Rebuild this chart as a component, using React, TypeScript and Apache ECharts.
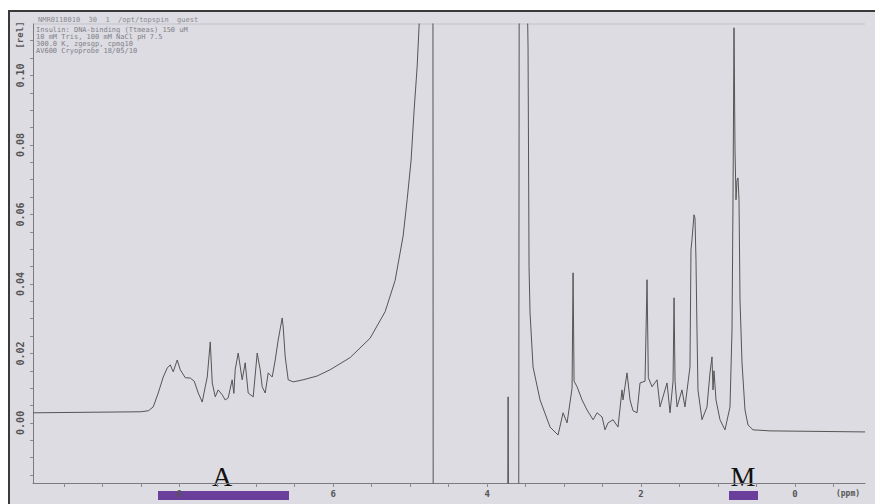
import React, { useEffect, useRef } from "react";
import * as echarts from "echarts";

// Aromatic / amide region (ppm, relative intensity)
const aromaticPpm = [9.90, 8.50, 8.40, 8.338, 8.273, 8.208, 8.156, 8.117, 8.078, 8.026, 7.987, 7.922, 7.857, 7.805, 7.753, 7.701, 7.662, 7.636, 7.597, 7.571, 7.532, 7.494, 7.442, 7.403, 7.364, 7.312, 7.290, 7.273, 7.234, 7.182, 7.143, 7.104, 7.039, 6.987, 6.948, 6.922, 6.883, 6.844, 6.792, 6.753, 6.714, 6.662, 6.649, 6.623, 6.584, 6.519, 6.390, 6.208, 6.039];
const aromaticInt = [0.0029, 0.0032, 0.0035, 0.0046, 0.0086, 0.0132, 0.0158, 0.0167, 0.0147, 0.0181, 0.0153, 0.0130, 0.0129, 0.0120, 0.0086, 0.0060, 0.0104, 0.0132, 0.0233, 0.0115, 0.0075, 0.0095, 0.0081, 0.0066, 0.0072, 0.0124, 0.0085, 0.0153, 0.0201, 0.0124, 0.0173, 0.0086, 0.0075, 0.0201, 0.0153, 0.0104, 0.0086, 0.0144, 0.0132, 0.0181, 0.0239, 0.0302, 0.0276, 0.0190, 0.0124, 0.0118, 0.0124, 0.0135, 0.0153];

// Water signal and buffer region
const waterPpm = [5.779, 5.519, 5.325, 5.195, 5.091, 5.039, 4.987, 4.948, 4.909, 4.883, 4.85, 4.705, 4.700, 3.735, 3.727, 3.719, 3.590, 3.580, 3.530, 3.468, 3.455, 3.442, 3.403, 3.312, 3.182, 3.078];
const waterInt = [0.0188, 0.0244, 0.032, 0.041, 0.0538, 0.0642, 0.0757, 0.0901, 0.1024, 0.1145, 0.2, 0.2, -0.05, -0.05, 0.0075, -0.05, -0.05, 0.2, 0.2, 0.1082, 0.045, 0.0317, 0.0161, 0.0066, -0.0012, -0.0035];

// Aliphatic / methyl region
const aliphaticPpm = [3.013, 2.961, 2.896, 2.883, 2.870, 2.831, 2.766, 2.701, 2.623, 2.571, 2.506, 2.468, 2.429, 2.364, 2.299, 2.247, 2.234, 2.182, 2.143, 2.104, 2.052, 2.013, 1.948, 1.922, 1.905, 1.857, 1.792, 1.753, 1.662, 1.623, 1.584, 1.571, 1.558, 1.532, 1.468, 1.429, 1.364, 1.351, 1.338, 1.312, 1.299, 1.286, 1.273, 1.260, 1.208, 1.143, 1.104, 1.078, 1.065, 1.052, 1.026, 0.974, 0.909, 0.844, 0.818, 0.805, 0.792, 0.779, 0.766, 0.753, 0.740, 0.727, 0.714, 0.688, 0.649, 0.610, 0.545, 0.325, -0.91];
const aliphaticInt = [0.0029, 0.0, 0.010, 0.0432, 0.012, 0.0104, 0.0066, 0.0037, 0.0009, 0.0029, 0.0017, -0.002, 0.0, 0.0009, -0.0012, 0.0095, 0.0066, 0.0144, 0.0066, 0.0035, 0.0029, 0.0115, 0.012, 0.0412, 0.013, 0.0104, 0.0124, 0.0046, 0.0115, 0.0029, 0.012, 0.036, 0.012, 0.0046, 0.0095, 0.0046, 0.0161, 0.0498, 0.0527, 0.0599, 0.059, 0.047, 0.0268, 0.0095, 0.0009, 0.0046, 0.0144, 0.019, 0.0095, 0.015, 0.0066, 0.0009, -0.002, 0.0046, 0.0268, 0.0642, 0.1137, 0.0786, 0.0642, 0.0699, 0.0705, 0.0642, 0.0354, 0.0173, 0.0037, -0.0006, -0.002, -0.0023, -0.0026];

const xTickLabels = [8, 6, 4, 2, 0];
const xMinorTicks = [9.5, 9, 8.5, 8, 7.5, 7, 6.5, 6, 5.5, 5, 4.5, 4, 3.5, 3, 2.5, 2, 1.5, 1, 0.5, 0, -0.5];
const yTickLabels = [0, 0.02, 0.04, 0.06, 0.08, 0.10];
const yMinorTicks = [-0.015, -0.01, -0.005, 0, 0.005, 0.01, 0.015, 0.02, 0.025, 0.03, 0.035, 0.04, 0.045, 0.05, 0.055, 0.06, 0.065, 0.07, 0.075, 0.08, 0.085, 0.09, 0.095, 0.1, 0.105, 0.11];

const headerText = "NMR011B010  30  1  /opt/topspin  guest";
const infoLines = [
  "Insulin: DNA-binding (Ttmeas) 150 uM",
  "10 mM Tris, 100 mM NaCl pH 7.5",
  "300.0 K, zgesgp, cpmg10",
  "AV600 Cryoprobe 18/05/10",
];

function pairs(xs: number[], ys: number[]) {
  const n = Math.min(xs.length, ys.length);
  const out: number[][] = [];
  for (let i = 0; i < n; i++) out.push([xs[i], ys[i]]);
  return out;
}

export default function App() {
  const ref = useRef<HTMLDivElement>(null);
  useEffect(() => {
    if (!ref.current) return;
    const chart = echarts.init(ref.current, null, { renderer: "svg" });
    const data = [
      ...pairs(aromaticPpm, aromaticInt),
      ...pairs(waterPpm, waterInt),
      ...pairs(aliphaticPpm, aliphaticInt),
    ];
    const mono = "'DejaVu Sans Mono', monospace";
    chart.setOption({
      animation: false,
      backgroundColor: "#dcdce2",
      grid: { left: 33, right: 10, top: 24, bottom: 21, outerBoundsMode: "none", containLabel: false },
      xAxis: {
        type: "value",
        min: -0.91,
        max: 9.9,
        inverse: true,
        axisLine: { show: true, onZero: false, lineStyle: { color: "#7a7a80", width: 1 } },
        axisTick: { show: true, customValues: xMinorTicks, length: 4, lineStyle: { color: "#8a8a90" } },
        axisLabel: {
          customValues: xTickLabels,
          formatter: (v: number) => String(Math.round(v)),
          color: "#555",
          fontSize: 9,
          fontFamily: mono,
          fontWeight: "bold",
          margin: 6,
        },
        splitLine: { show: false },
      },
      yAxis: {
        type: "value",
        min: -0.0173,
        max: 0.1148,
        axisLine: { show: true, onZero: false, lineStyle: { color: "#7a7a80", width: 1 } },
        axisTick: { show: true, customValues: yMinorTicks, length: 3, lineStyle: { color: "#8a8a90" } },
        axisLabel: {
          customValues: yTickLabels,
          formatter: (v: number) => v.toFixed(2),
          rotate: 90,
          color: "#555",
          fontSize: 10,
          fontFamily: mono,
          fontWeight: "bold",
          margin: 8,
        },
        splitLine: { show: false },
      },
      series: [
        {
          type: "line",
          data,
          showSymbol: false,
          clip: true,
          lineStyle: { color: "#555", width: 1 },
          silent: true,
        },
      ],
      graphic: [
        { type: "rect", shape: { x: 0, y: 0, width: 875, height: 10 }, style: { fill: "#ffffff" }, silent: true },
        { type: "rect", shape: { x: 0, y: 0, width: 8, height: 504 }, style: { fill: "#ffffff" }, silent: true },
        { type: "line", shape: { x1: 8, y1: 11, x2: 875, y2: 11 }, style: { stroke: "#3a3a3a", lineWidth: 2 }, silent: true },
        { type: "line", shape: { x1: 9, y1: 10, x2: 9, y2: 504 }, style: { stroke: "#3a3a3a", lineWidth: 2 }, silent: true },
        { type: "line", shape: { x1: 33, y1: 24, x2: 865, y2: 24 }, style: { stroke: "#c2c2c8", lineWidth: 1 }, silent: true },
        { type: "text", style: { text: headerText, x: 38, y: 20, fill: "#8a8a90", font: "7px " + mono, textVerticalAlign: "middle" }, silent: true },
        ...infoLines.map((t, i) => ({
          type: "text",
          style: { text: t, x: 36, y: 30 + i * 7, fill: "#808088", font: "7px " + mono, textVerticalAlign: "middle" },
          silent: true,
        })),
        { type: "text", rotation: Math.PI / 2, x: 20, y: 35, style: { text: "[rel]", x: 0, y: 0, fill: "#555", font: "bold 9px " + mono, textAlign: "center", textVerticalAlign: "middle" }, silent: true },
        { type: "text", style: { text: "(ppm)", x: 848, y: 493, fill: "#555", font: "bold 8px " + mono, textAlign: "center", textVerticalAlign: "middle" }, silent: true },
        { type: "rect", shape: { x: 158, y: 491, width: 131, height: 9 }, style: { fill: "#6a3f9c" }, silent: true },
        { type: "rect", shape: { x: 729, y: 491, width: 29, height: 9 }, style: { fill: "#6a3f9c" }, silent: true },
        { type: "text", style: { text: "A", x: 222, y: 490, fill: "#111", font: "28px 'Liberation Serif', serif", textAlign: "center", textVerticalAlign: "bottom" }, silent: true },
        { type: "text", style: { text: "M", x: 743, y: 490, fill: "#111", font: "28px 'Liberation Serif', serif", textAlign: "center", textVerticalAlign: "bottom" }, silent: true },
      ],
    });
    return () => chart.dispose();
  }, []);
  return <div ref={ref} style={{ position: "absolute", left: 0, top: 0, width: 875, height: 504 }} />;
}
